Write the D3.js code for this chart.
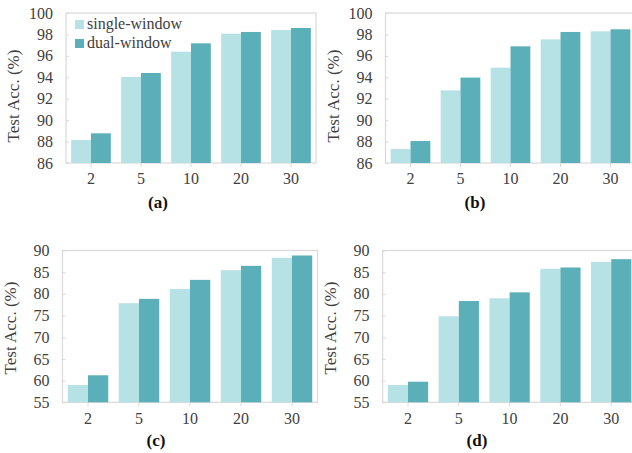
<!DOCTYPE html>
<html>
<head>
<meta charset="utf-8">
<script src="https://cdn.jsdelivr.net/npm/d3@7"></script>
<style>
  html, body { margin: 0; padding: 0; background: #fff; }
  svg { display: block; }
</style>
</head>
<body>
<svg id="chart" width="632" height="453"></svg>
<script>
// Number of windows on the x axis
const categories = ["2", "5", "10", "20", "30"];
const seriesNames = ["single-window", "dual-window"];

// Test accuracy (%) per panel
const singleA = [88.15, 94.03, 96.39, 98.07, 98.41];
const dualA   = [88.77, 94.40, 97.17, 98.23, 98.60];
const singleB = [87.31, 92.78, 94.90, 97.54, 98.29];
const dualB   = [88.05, 93.97, 96.89, 98.23, 98.48];
const singleC = [59.00, 77.85, 81.15, 85.46, 88.31];
const dualC   = [61.23, 78.85, 83.23, 86.46, 88.85];
const singleD = [58.98, 74.83, 78.97, 85.78, 87.39];
const dualD   = [59.75, 78.35, 80.35, 86.09, 88.00];

const ticksAB = [86, 88, 90, 92, 94, 96, 98, 100];
const ticksCD = [55, 60, 65, 70, 75, 80, 85, 90];

const colors = ["#b6e2e5", "#5bafb8"];
const frameColor = "#d9d9d9";
const serif = "'Liberation Serif', 'Times New Roman', serif";
const textColor = "#404040";

const panels = [
  { label: "(a)", single: singleA, dual: dualA, ticks: ticksAB, domain: [86, 100],
    x0: 66, x1: 316, y0: 13, y1: 163, labelX: 158, labelY: 208, titleY: 96, legend: true },
  { label: "(b)", single: singleB, dual: dualB, ticks: ticksAB, domain: [86, 100],
    x0: 385.5, x1: 635.5, y0: 13, y1: 163, labelX: 475, labelY: 208, titleY: 96, legend: false },
  { label: "(c)", single: singleC, dual: dualC, ticks: ticksCD, domain: [55, 90],
    x0: 62.5, x1: 317.5, y0: 250.5, y1: 402.3, labelX: 156, labelY: 446, titleY: 328, legend: false },
  { label: "(d)", single: singleD, dual: dualD, ticks: ticksCD, domain: [55, 90],
    x0: 382.6, x1: 636.6, y0: 250.5, y1: 402.3, labelX: 477, labelY: 446, titleY: 328, legend: false }
];

const svg = d3.select("#chart");

panels.forEach(p => {
  const g = svg.append("g");

  const x = d3.scaleBand().domain(categories).range([p.x0, p.x1]).paddingInner(0).paddingOuter(0);
  const inner = d3.scaleBand().domain(seriesNames).range([0, x.bandwidth()]).paddingInner(0).paddingOuter(0.26);
  const y = d3.scaleLinear().domain(p.domain).range([p.y1, p.y0]);

  // frame
  g.append("rect")
    .attr("x", p.x0).attr("y", p.y0)
    .attr("width", p.x1 - p.x0).attr("height", p.y1 - p.y0)
    .attr("fill", "none").attr("stroke", frameColor).attr("stroke-width", 1.2);

  // bars
  const rows = categories.map((c, i) => ({ cat: c, values: [p.single[i], p.dual[i]] }));
  const groups = g.selectAll(".grp").data(rows).join("g")
    .attr("transform", d => `translate(${x(d.cat)},0)`);
  groups.selectAll("rect").data(d => d.values.map((v, k) => ({ v, k })))
    .join("rect")
    .attr("x", d => inner(seriesNames[d.k]))
    .attr("width", inner.bandwidth())
    .attr("y", d => y(d.v))
    .attr("height", d => y(p.domain[0]) - y(d.v))
    .attr("fill", d => colors[d.k]);

  // y axis
  const yAxis = d3.axisLeft(y).tickValues(p.ticks).tickSize(-3).tickPadding(13).tickFormat(d3.format("d"));
  const ya = g.append("g").attr("transform", `translate(${p.x0},0)`).call(yAxis);
  ya.select(".domain").remove();
  ya.selectAll("line").attr("stroke", frameColor);
  ya.selectAll("text").style("font-size", "16px").style("fill", textColor).style("font-family", serif);

  // x axis
  const xAxis = d3.axisBottom(x).tickSize(4).tickPadding(6);
  const xa = g.append("g").attr("transform", `translate(0,${p.y1})`).call(xAxis);
  xa.select(".domain").remove();
  xa.selectAll("line").attr("stroke", frameColor);
  xa.selectAll("text").style("font-size", "16px").style("fill", textColor).style("font-family", serif);

  // y title
  const tx = p.x0 - 47;
  g.append("text")
    .attr("transform", `translate(${tx},${p.titleY}) rotate(-90)`)
    .attr("text-anchor", "middle")
    .style("font-size", "17px").style("fill", textColor).style("font-family", serif)
    .text("Test Acc. (%)");

  // subfigure label
  g.append("text")
    .attr("x", p.labelX).attr("y", p.labelY)
    .attr("text-anchor", "middle")
    .style("font-size", "17px").style("font-weight", "bold")
    .style("fill", "#111").style("font-family", serif)
    .text(p.label);

  if (p.legend) {
    const lg = g.append("g").attr("transform", `translate(${p.x0 + 9},20)`);
    seriesNames.forEach((name, k) => {
      lg.append("rect").attr("x", 0).attr("y", k * 19).attr("width", 9).attr("height", 9)
        .attr("fill", colors[k]);
      lg.append("text").attr("x", 12).attr("y", k * 19 + 9)
        .style("font-size", "16px").style("fill", textColor).style("font-family", serif)
        .text(name);
    });
  }
});
</script>
</body>
</html>
